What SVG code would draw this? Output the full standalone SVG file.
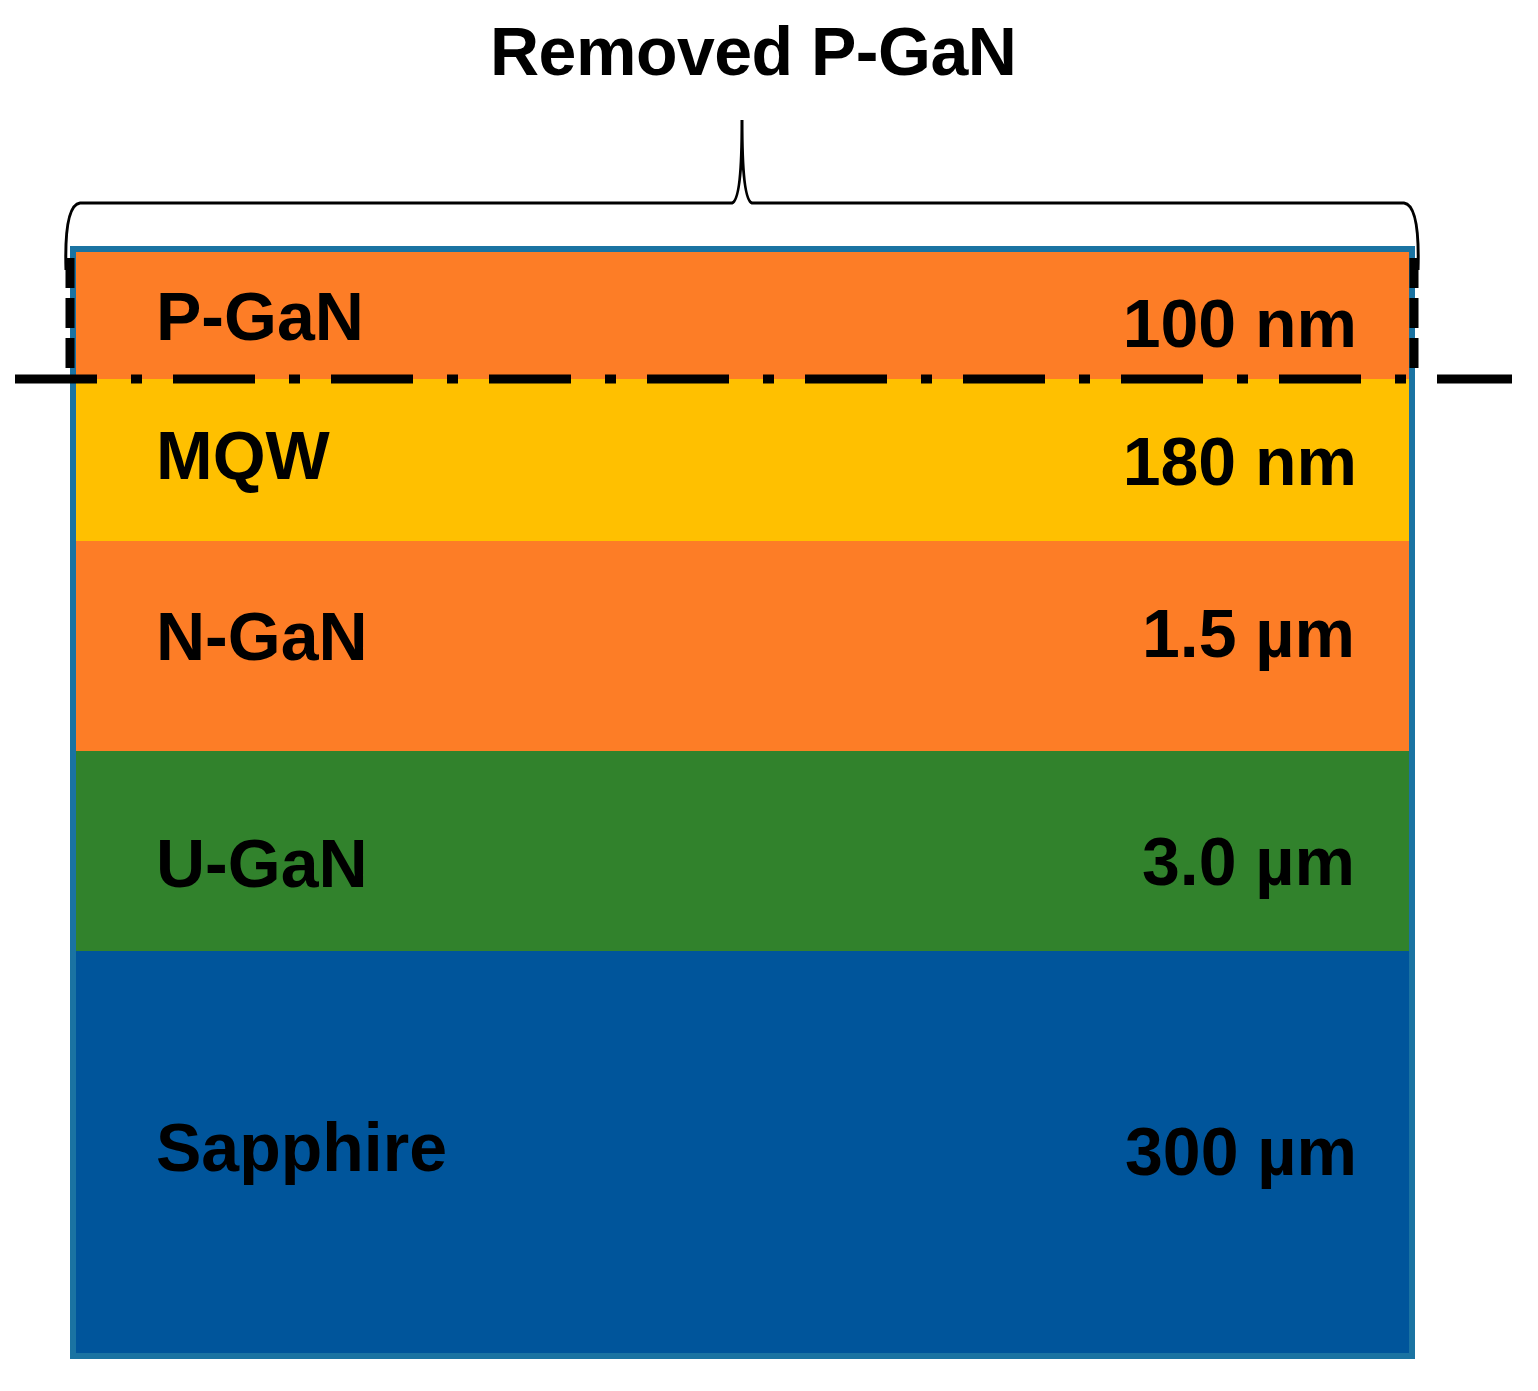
<svg xmlns="http://www.w3.org/2000/svg" width="1538" height="1391" viewBox="0 0 1538 1391">
<style>
text{font-family:"Liberation Sans",Arial,sans-serif;font-weight:bold;fill:#000;font-size:68px}
.r{text-anchor:end}
</style>
<rect width="1538" height="1391" fill="#fff"/>
<g id="layers">
<rect x="73" y="249" width="1339" height="130" fill="#FD7D26"/>
<rect x="73" y="379" width="1339" height="162" fill="#FFC000"/>
<rect x="73" y="541" width="1339" height="210" fill="#FD7D26"/>
<rect x="73" y="751" width="1339" height="200" fill="#31822C"/>
<rect x="73" y="951" width="1339" height="405" fill="#00559B"/>
<rect x="73" y="249" width="1339" height="1107" fill="none" stroke="#1A73A2" stroke-width="6"/>
</g>
<g id="labels">
<text x="156" y="340">P-GaN</text><text class="r" x="1357" y="347">100 nm</text>
<text x="156" y="479">MQW</text><text class="r" x="1357" y="485">180 nm</text>
<text x="156" y="660">N-GaN</text><text class="r" x="1355" y="657">1.5 µm</text>
<text x="156" y="887">U-GaN</text><text class="r" x="1355" y="885">3.0 µm</text>
<text x="156" y="1171">Sapphire</text><text class="r" x="1357" y="1175">300 µm</text>
</g>
<g id="connectors" fill="none" stroke="#000">
<path d="M15 379 H1512" stroke-width="9" stroke-dasharray="82 34 11 31"/>
<path d="M70 258 V372" stroke-width="9" stroke-dasharray="30 10"/>
<path d="M1414 258 V372" stroke-width="9" stroke-dasharray="30 10"/>
<path d="M66 270 Q64 205 80 203 H732 Q742 200 742 120 Q742 200 752 203 H1404 Q1420 205 1418 270" stroke-width="3"/>
</g>
<g id="title"><text x="490" y="75" font-size="49" letter-spacing="-0.5">Removed P-GaN</text></g>
</svg>
